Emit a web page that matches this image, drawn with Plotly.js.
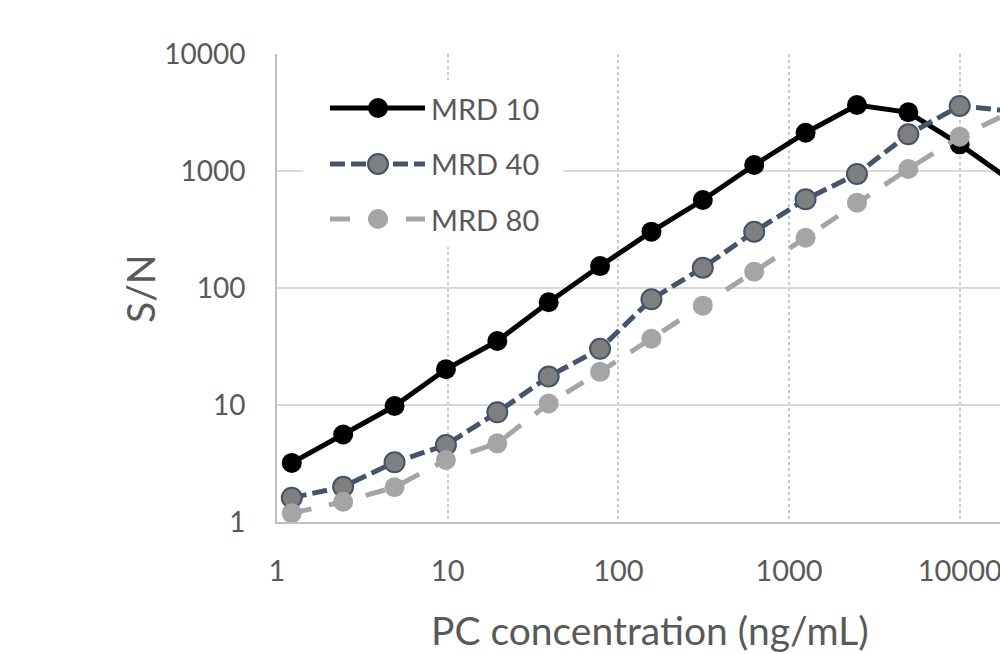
<!DOCTYPE html>
<html>
<head>
<meta charset="utf-8">
<script src="https://cdn.plot.ly/plotly-3.0.1.min.js"></script>
<style>
  html, body { margin: 0; padding: 0; background: #ffffff; }
  #chart { width: 1000px; height: 654px; }
</style>
</head>
<body>
<div id="chart"></div>
<script>
// ---- data ----
const concentration = [1.220703125, 2.44140625, 4.8828125, 9.765625, 19.53125, 39.0625, 78.125, 156.25, 312.5, 625, 1250, 2500, 5000, 10000, 20000];
const mrd10 = [3.2, 5.6, 9.8, 20.2, 35.2, 75.5, 154, 303, 565, 1125, 2125, 3665, 3175, 1690, 826];
const mrd40 = [1.61, 2.0, 3.24, 4.55, 8.66, 17.5, 30.2, 80, 149, 303, 573, 942, 2060, 3595, 3250];
const mrd80 = [1.19, 1.49, 1.98, 3.39, 4.7, 10.3, 19.2, 36.8, 70.6, 138, 269, 536, 1040, 1965, 3190];
const seriesNames = ["MRD 10", "MRD 40", "MRD 80"];
const tickValues = [1, 10, 100, 1000, 10000];
const tickLabels = ["1", "10", "100", "1000", "10000"];
const xTitle = "PC concentration (ng/mL)";
const yTitle = "S/N";

// ---- styles ----
const FONT = "Lato, 'Open Sans', sans-serif";
const TXT = "#595959";
const styles = [
  { line: { color: "#000000", width: 5, dash: "solid" },
    marker: { color: "#000000", size: 20, line: { color: "#000000", width: 0 } } },
  { line: { color: "#44546a", width: 5, dash: "15px,6px" },
    marker: { color: "#7f7f7f", size: 20, line: { color: "#44546a", width: 2 } } },
  { line: { color: "#a5a5a5", width: 5, dash: "20px,18px" },
    marker: { color: "#a5a5a5", size: 20, line: { color: "#a5a5a5", width: 0 } } }
];
const seriesValues = [mrd10, mrd40, mrd80];

const traces = seriesValues.map((vals, i) => ({
  type: "scatter",
  mode: "lines+markers",
  name: seriesNames[i],
  x: concentration,
  y: vals,
  line: styles[i].line,
  marker: Object.assign({ symbol: "circle" }, styles[i].marker),
  cliponaxis: true,
  hoverinfo: "x+y+name"
}));

// ---- custom legend (long sample lines like the original) ----
const legendShapes = [{
  type: "rect", xref: "paper", yref: "paper", layer: "above",
  x0: 0.036, x1: 0.3956, y0: 0.5876, y1: 0.9444,
  fillcolor: "#ffffff", line: { width: 0 }
}];
const legendAnnotations = [];
const rowY = [0.8846, 0.765, 0.6474];
seriesNames.forEach((name, i) => {
  const s = styles[i];
  legendShapes.push({
    type: "line", xref: "paper", yref: "paper", layer: "above",
    x0: 0.0733, x1: 0.2047, y0: rowY[i], y1: rowY[i],
    line: { color: s.line.color, width: s.line.width, dash: s.line.dash }
  });
  legendShapes.push({
    type: "circle", xref: "paper", yref: "paper", layer: "above",
    xsizemode: "pixel", ysizemode: "pixel",
    xanchor: 0.1397, yanchor: rowY[i],
    x0: -10, x1: 10, y0: -10, y1: 10,
    fillcolor: s.marker.color,
    line: { color: s.marker.line.color, width: s.marker.line.width }
  });
  legendAnnotations.push({
    xref: "paper", yref: "paper", x: 0.2103, y: rowY[i],
    xanchor: "left", yanchor: "middle", showarrow: false,
    text: name, font: { family: FONT, size: 29, color: TXT }
  });
});

const layout = {
  width: 1000, height: 654,
  margin: { l: 277, r: 0, t: 54, b: 132, pad: 0 },
  paper_bgcolor: "#ffffff", plot_bgcolor: "#ffffff",
  showlegend: false,
  font: { family: FONT, color: TXT },
  xaxis: {
    type: "log",
    range: [0, 4.236],
    tickvals: tickValues, ticktext: tickLabels,
    ticks: "", ticklabelstandoff: 22, ticklabeloverflow: "allow",
    tickfont: { family: FONT, size: 29, color: TXT },
    showgrid: true, gridcolor: "#c9c9c9", gridwidth: 2, griddash: "dot",
    showline: true, linecolor: "#bfbfbf", linewidth: 2,
    zeroline: false, fixedrange: true
  },
  yaxis: {
    type: "log",
    range: [0, 4],
    tickvals: tickValues, ticktext: tickLabels,
    ticks: "", ticklabelstandoff: 24,
    tickfont: { family: FONT, size: 28, color: TXT },
    showgrid: true, gridcolor: "#d9d9d9", gridwidth: 2,
    showline: true, linecolor: "#bfbfbf", linewidth: 2,
    zeroline: false, fixedrange: true
  },
  shapes: legendShapes,
  annotations: legendAnnotations.concat([
    { xref: "paper", yref: "paper", x: 0.516, y: -0.231,
      xanchor: "center", yanchor: "middle", showarrow: false,
      text: xTitle, font: { family: FONT, size: 39, color: TXT } },
    { xref: "paper", yref: "paper", x: -0.1895, y: 0.5,
      xanchor: "center", yanchor: "middle", showarrow: false, textangle: -90,
      text: yTitle, font: { family: FONT, size: 39, color: TXT } }
  ])
};

Plotly.newPlot("chart", traces, layout, { displayModeBar: false, staticPlot: true });
</script>
</body>
</html>
